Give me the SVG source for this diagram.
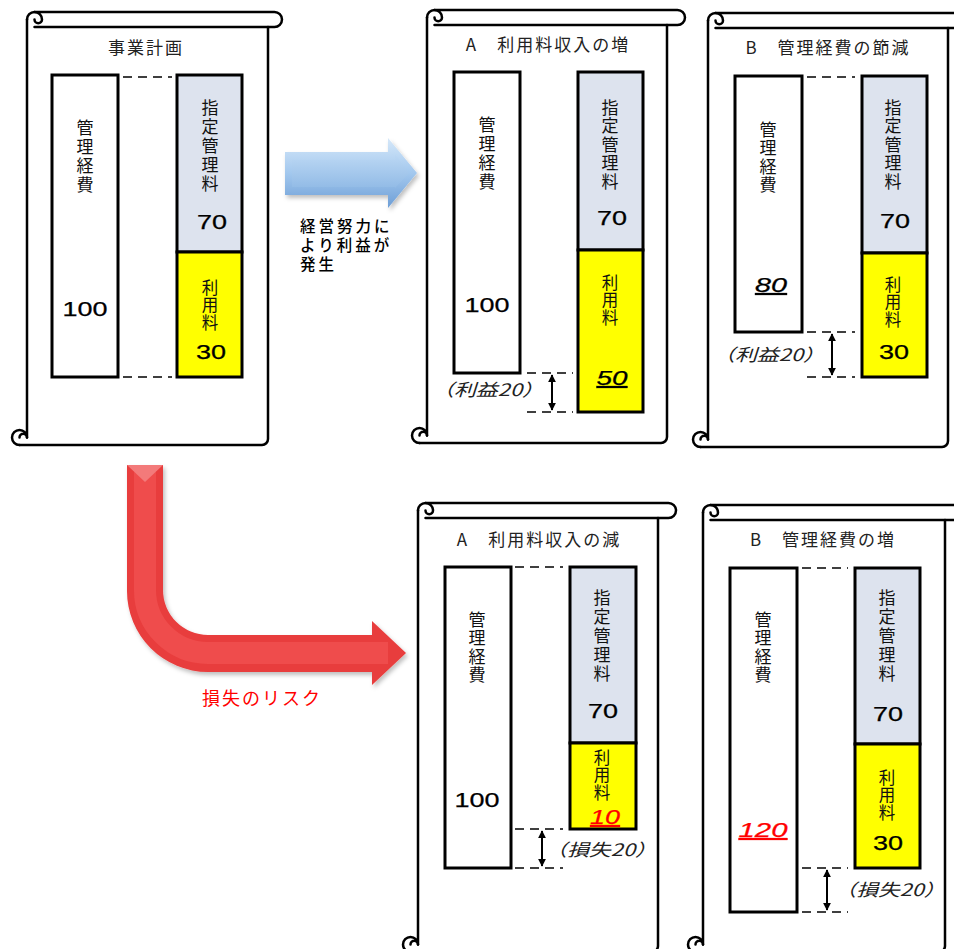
<svg xmlns="http://www.w3.org/2000/svg" width="954" height="949" viewBox="0 0 954 949">
<defs>
<style>
.body{fill:#fff;stroke:none}
.ln{fill:none;stroke:#000;stroke-width:2.5;stroke-linecap:round;stroke-linejoin:round}
.box{fill:#fff;stroke:#000;stroke-width:3}
.fee{fill:#dde3ee;stroke:#000;stroke-width:3}
.use{fill:#ffff00;stroke:#000;stroke-width:3}
.dash{stroke:#000;stroke-width:1.6;stroke-dasharray:9 6;fill:none}
.dbl{stroke:#000;stroke-width:2;fill:none;marker-start:url(#ah);marker-end:url(#ah)}
.jp{font-family:'Noto Sans CJK JP','Noto Sans CJK SC',sans-serif;font-size:18px;fill:#111;text-anchor:middle}
.vt{writing-mode:vertical-rl;text-anchor:start;font-size:17px;letter-spacing:2px}
.vs{font-size:16.5px;letter-spacing:1px}
.title{font-size:17px;letter-spacing:2px;fill:#222}
.note{text-anchor:start;font-size:15.5px;letter-spacing:3px;fill:#000;font-weight:500}
.num{font-family:'Liberation Sans',Arial,sans-serif;font-size:20px;text-anchor:middle;fill:#000;stroke:#000;stroke-width:0.25}
.it{font-style:italic}
.red{fill:#f00;stroke:#f00}
.redt{fill:#f00}
.ul{text-decoration:underline}
.par{font-size:17px;fill:#222;font-style:italic}
</style>
<marker id="ah" viewBox="0 0 10 10" refX="9" refY="5" markerWidth="4" markerHeight="4.5" orient="auto-start-reverse">
<path d="M0,0 L10,5 L0,10 Z" fill="#000"/>
</marker>
<linearGradient id="blueG" x1="0" y1="0" x2="0" y2="1">
<stop offset="0" stop-color="#d6e8f9"/>
<stop offset="0.5" stop-color="#a3c8ee"/>
<stop offset="1" stop-color="#6d9ed6"/>
</linearGradient>
<linearGradient id="blueI" x1="0" y1="0" x2="0" y2="1">
<stop offset="0" stop-color="#bcd8f4"/>
<stop offset="1" stop-color="#92bbe6"/>
</linearGradient>
<filter id="sh" x="-10%" y="-10%" width="130%" height="130%">
<feDropShadow dx="2" dy="3" stdDeviation="2" flood-color="#000" flood-opacity="0.25"/>
</filter>
</defs>
<rect width="954" height="949" fill="#fff"/>

<g id="connectors">
<g id="blue-arrow">
<path d="M285,152 H388 V138 L417,173 L388,208 V195 H285 Z" fill="url(#blueG)" filter="url(#sh)"/>
<path d="M292,160 H395 V154 L409,173 L395,188 V187 H292 Z" fill="url(#blueI)"/>
</g>
<g id="red-arrow">
<path d="M127,465 H163 V590 A45 45 0 0 0 208,635 H372 V621 L406,653 L372,685 V672 H208 A81 81 0 0 1 127,591 Z" fill="#e83c3c" filter="url(#sh)"/>
<path d="M145,472 V590 A63 63 0 0 0 208,653 H388" fill="none" stroke="#ef4c4c" stroke-width="22"/>
<path d="M127,465 H163 L145,482 Z" fill="#f37a7a"/>
</g>
<text class="jp note"><tspan x="300" y="232">経営努力に</tspan><tspan x="300" y="251">より利益が</tspan><tspan x="300" y="270">発生</tspan></text>
<text class="jp redt" x="262" y="705" style="font-size:18px;letter-spacing:2px">損失のリスク</text>
</g>

<g id="scroll-plan">
<rect class="body" x="27" y="19" width="241" height="426"/>
<path class="ln" d="M27,19.5 V437.5"/>
<path class="ln" d="M27,19.5 A7.5 7.5 0 0 1 42,19.5 A3.75 3.75 0 0 1 34.5,19.5"/>
<path class="ln" d="M34.5,12 H274.5 A7.5 7.5 0 0 1 274.5,27 H34.5"/>
<path class="ln" d="M268,27 V439 A6 6 0 0 1 262,445 H19.5"/>
<path class="ln" d="M27,437.5 A7.5 7.5 0 1 0 19.5,445 M27,437.5 A3.75 3.75 0 0 0 19.5,437.5"/>
<text class="jp title" x="146" y="54">事業計画</text>
<rect class="box" x="52" y="75" width="66" height="302"/>
<rect class="fee" x="177" y="75" width="65" height="177"/>
<rect class="use" x="177" y="252" width="65" height="125"/>
<line class="dash" x1="123" y1="77" x2="172" y2="77"/>
<line class="dash" x1="123" y1="377" x2="172" y2="377"/>
<text class="jp vt" x="85" y="119">管理経費</text>
<text class="jp vt" x="210" y="99">指定管理料</text>
<text class="num" x="212" y="228.5" textLength="30" lengthAdjust="spacingAndGlyphs">70</text>
<text class="num" x="85" y="315.5" textLength="45" lengthAdjust="spacingAndGlyphs">100</text>
<text class="jp vt vs" x="210" y="279">利用料</text>
<text class="num" x="211" y="359" textLength="30" lengthAdjust="spacingAndGlyphs">30</text>
</g>

<g id="scroll-a-increase">
<rect class="body" x="427" y="17" width="240" height="426"/>
<path class="ln" d="M427,17.5 V435.5"/>
<path class="ln" d="M427,17.5 A7.5 7.5 0 0 1 442,17.5 A3.75 3.75 0 0 1 434.5,17.5"/>
<path class="ln" d="M434.5,10 H677.5 A7.5 7.5 0 0 1 677.5,25 H434.5"/>
<path class="ln" d="M667,25 V437 A6 6 0 0 1 661,443 H419.5"/>
<path class="ln" d="M427,435.5 A7.5 7.5 0 1 0 419.5,443 M427,435.5 A3.75 3.75 0 0 0 419.5,435.5"/>
<text class="jp title" x="548" y="51">A　利用料収入の増</text>
<rect class="box" x="454" y="72" width="66" height="301"/>
<rect class="fee" x="578" y="72" width="65" height="178"/>
<rect class="use" x="578" y="250" width="65" height="162"/>
<line class="dash" x1="527" y1="373" x2="573" y2="373"/>
<line class="dash" x1="527" y1="412" x2="573" y2="412"/>
<line class="dbl" x1="552" y1="375" x2="552" y2="410"/>
<text class="jp vt" x="487" y="116">管理経費</text>
<text class="jp vt" x="610" y="99" style="letter-spacing:1.5px">指定管理料</text>
<text class="num" x="612" y="224.5" textLength="30" lengthAdjust="spacingAndGlyphs">70</text>
<text class="num" x="487" y="312" textLength="45" lengthAdjust="spacingAndGlyphs">100</text>
<text class="jp vt vs" x="610" y="274">利用料</text>
<text class="num it ul" x="612" y="385" textLength="31" lengthAdjust="spacingAndGlyphs">50</text>
<text class="jp par" x="488" y="396" textLength="112" lengthAdjust="spacingAndGlyphs">（利益20）</text>
</g>

<g id="scroll-b-reduce">
<rect class="body" x="708" y="20" width="240" height="427"/>
<path class="ln" d="M708,20.5 V439.5"/>
<path class="ln" d="M708,20.5 A7.5 7.5 0 0 1 723,20.5 A3.75 3.75 0 0 1 715.5,20.5"/>
<path class="ln" d="M715.5,13 H960.5 A7.5 7.5 0 0 1 960.5,28 H715.5"/>
<path class="ln" d="M948,28 V441 A6 6 0 0 1 942,447 H700.5"/>
<path class="ln" d="M708,439.5 A7.5 7.5 0 1 0 700.5,447 M708,439.5 A3.75 3.75 0 0 0 700.5,439.5"/>
<text class="jp title" x="828" y="54">B　管理経費の節減</text>
<rect class="box" x="735" y="76" width="67" height="256"/>
<rect class="fee" x="862" y="76" width="65" height="177"/>
<rect class="use" x="862" y="253" width="65" height="124"/>
<line class="dash" x1="807" y1="77" x2="855" y2="77"/>
<line class="dash" x1="807" y1="332" x2="855" y2="332"/>
<line class="dash" x1="807" y1="377" x2="855" y2="377"/>
<line class="dbl" x1="832" y1="334" x2="832" y2="375"/>
<text class="jp vt" x="768" y="121" style="letter-spacing:1.5px">管理経費</text>
<text class="jp vt" x="893" y="99" style="letter-spacing:1.5px">指定管理料</text>
<text class="num" x="895" y="228" textLength="30" lengthAdjust="spacingAndGlyphs">70</text>
<text class="num it ul" x="771" y="292" textLength="32" lengthAdjust="spacingAndGlyphs">80</text>
<text class="jp vt vs" x="893" y="276">利用料</text>
<text class="num" x="894" y="359" textLength="30" lengthAdjust="spacingAndGlyphs">30</text>
<text class="jp par" x="769" y="361" textLength="112" lengthAdjust="spacingAndGlyphs">（利益20）</text>
</g>

<g id="scroll-a-decrease">
<rect class="body" x="418" y="510" width="240" height="442"/>
<path class="ln" d="M418,510.5 V944.5"/>
<path class="ln" d="M418,510.5 A7.5 7.5 0 0 1 433,510.5 A3.75 3.75 0 0 1 425.5,510.5"/>
<path class="ln" d="M425.5,503 H668.5 A7.5 7.5 0 0 1 668.5,518 H425.5"/>
<path class="ln" d="M658,518 V946 A6 6 0 0 1 652,952 H410.5"/>
<path class="ln" d="M418,944.5 A7.5 7.5 0 1 0 410.5,952 M418,944.5 A3.75 3.75 0 0 0 410.5,944.5"/>
<text class="jp title" x="539" y="546">A　利用料収入の減</text>
<rect class="box" x="445" y="567" width="66" height="301"/>
<rect class="fee" x="570" y="567" width="66" height="176"/>
<rect class="use" x="570" y="743" width="66" height="86"/>
<line class="dash" x1="515" y1="567" x2="563" y2="567"/>
<line class="dash" x1="515" y1="829" x2="563" y2="829"/>
<line class="dash" x1="515" y1="868" x2="563" y2="868"/>
<line class="dbl" x1="542" y1="831" x2="542" y2="866"/>
<text class="jp vt" x="477" y="611" style="letter-spacing:1.5px">管理経費</text>
<text class="jp vt" x="602" y="589">指定管理料</text>
<text class="num" x="603" y="718" textLength="30" lengthAdjust="spacingAndGlyphs">70</text>
<text class="num" x="477" y="807" textLength="45" lengthAdjust="spacingAndGlyphs">100</text>
<text class="jp vt vs" x="602" y="749">利用料</text>
<text class="num it ul red" x="605" y="824" textLength="30" lengthAdjust="spacingAndGlyphs">10</text>
<text class="jp par redt" x="601" y="856" textLength="112" lengthAdjust="spacingAndGlyphs">（損失20）</text>
</g>

<g id="scroll-b-increase">
<rect class="body" x="703" y="512" width="242" height="440"/>
<path class="ln" d="M703,512.5 V944.5"/>
<path class="ln" d="M703,512.5 A7.5 7.5 0 0 1 718,512.5 A3.75 3.75 0 0 1 710.5,512.5"/>
<path class="ln" d="M710.5,505 H957.5 A7.5 7.5 0 0 1 957.5,520 H710.5"/>
<path class="ln" d="M945,520 V946 A6 6 0 0 1 939,952 H695.5"/>
<path class="ln" d="M703,944.5 A7.5 7.5 0 1 0 695.5,952 M703,944.5 A3.75 3.75 0 0 0 695.5,944.5"/>
<text class="jp title" x="823" y="546">B　管理経費の増</text>
<rect class="box" x="730" y="568" width="67" height="344"/>
<rect class="fee" x="855" y="568" width="65" height="176"/>
<rect class="use" x="855" y="744" width="65" height="124"/>
<line class="dash" x1="802" y1="568" x2="848" y2="568"/>
<line class="dash" x1="802" y1="868" x2="848" y2="868"/>
<line class="dash" x1="802" y1="912" x2="848" y2="912"/>
<line class="dbl" x1="827" y1="870" x2="827" y2="910"/>
<text class="jp vt" x="763" y="611" style="letter-spacing:1.5px">管理経費</text>
<text class="jp vt" x="887" y="589">指定管理料</text>
<text class="num" x="888" y="721" textLength="30" lengthAdjust="spacingAndGlyphs">70</text>
<text class="num it ul red" x="763" y="837" textLength="49" lengthAdjust="spacingAndGlyphs">120</text>
<text class="jp vt vs" x="887" y="769">利用料</text>
<text class="num" x="888" y="849.5" textLength="30" lengthAdjust="spacingAndGlyphs">30</text>
<text class="jp par redt" x="890" y="896" textLength="111" lengthAdjust="spacingAndGlyphs">（損失20）</text>
</g>
</svg>
